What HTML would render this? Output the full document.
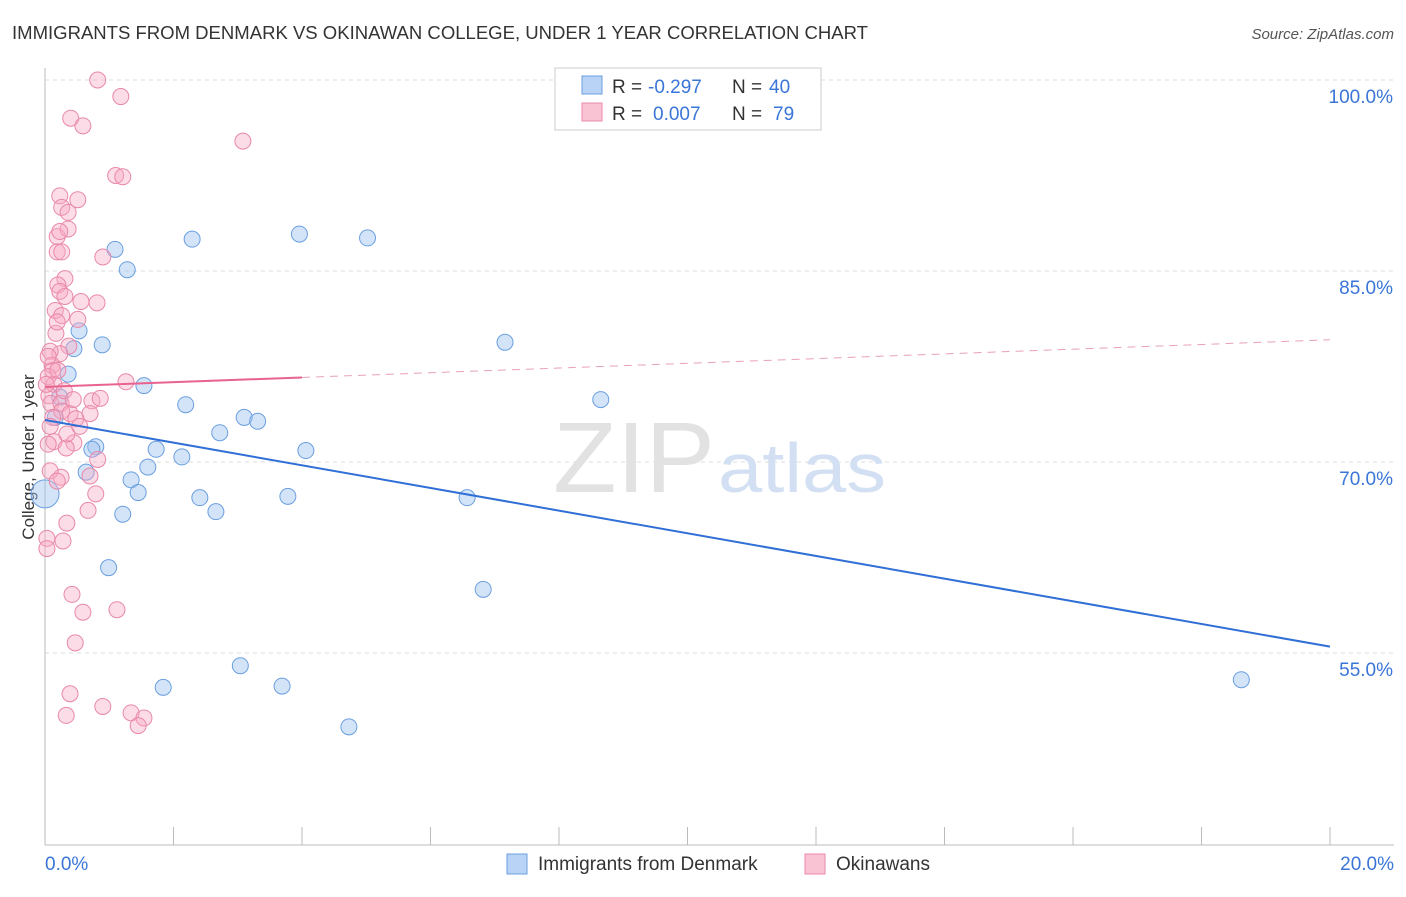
<!DOCTYPE html>
<html><head><meta charset="utf-8">
<style>
body{margin:0;background:#fff;font-family:"Liberation Sans",sans-serif;}
svg text{font-family:"Liberation Sans",sans-serif;}
</style></head>
<body>
<svg id="chart" width="1406" height="892" xmlns="http://www.w3.org/2000/svg">
<text x="12" y="39" font-size="18" fill="#333" textLength="856" lengthAdjust="spacingAndGlyphs">IMMIGRANTS FROM DENMARK VS OKINAWAN COLLEGE, UNDER 1 YEAR CORRELATION CHART</text>
<text x="1394" y="39" font-size="15" fill="#555" text-anchor="end" font-style="italic">Source: ZipAtlas.com</text>
<text transform="translate(34,457) rotate(-90)" font-size="17" fill="#333" text-anchor="middle">College, Under 1 year</text>
<g id="grid"></g>
<text x="553" y="492" font-size="100" fill="#e2e2e2" font-family="Liberation Serif" textLength="162" lengthAdjust="spacingAndGlyphs">ZIP</text>
<text x="718" y="492" font-size="70" fill="#d3e0f3" textLength="168" lengthAdjust="spacingAndGlyphs">atlas</text>
<g id="points"></g>
<g id="lines"></g>
<g>
<rect x="555" y="68" width="266" height="62" fill="#fff" stroke="#ccc"/>
<rect x="582" y="76" width="20" height="18" fill="#b8d3f5" stroke="#6a9fe0"/>
<rect x="582" y="103" width="20" height="18" fill="#f9c3d3" stroke="#e888a8"/>
<text y="93" font-size="19" fill="#333"><tspan x="612">R =</tspan><tspan x="648" fill="#3a75d8">-0.297</tspan><tspan x="732">N =</tspan><tspan x="769" fill="#3a75d8">40</tspan></text>
<text y="120" font-size="19" fill="#333"><tspan x="612">R =</tspan><tspan x="653" fill="#3a75d8">0.007</tspan><tspan x="732">N =</tspan><tspan x="773" fill="#3a75d8">79</tspan></text>
</g>
<g>
<rect x="507" y="854" width="20" height="20" fill="#b8d3f5" stroke="#6a9fe0"/>
<text x="538" y="870" font-size="19" fill="#333">Immigrants from Denmark</text>
<rect x="805" y="854" width="20" height="20" fill="#f9c3d3" stroke="#e888a8"/>
<text x="836" y="870" font-size="19" fill="#333">Okinawans</text>
</g>
<text x="45" y="870" font-size="19" fill="#3a75d8">0.0%</text>
<text x="1394" y="870" font-size="19" fill="#3a75d8" text-anchor="end">20.0%</text>
</svg>
<script>
const yTicks=[100,85,70,55];
const blueX=[1.09,1.28,2.29,3.96,5.02,0.53,0.89,0.45,0.36,1.54,2.19,0.16,3.1,3.31,2.72,0.79,0.73,1.73,2.13,4.06,1.6,0.64,1.34,1.45,2.41,3.78,2.66,1.21,6.57,0.99,6.82,3.04,1.84,3.69,4.73,7.16,8.65,18.62,0.0,0.23];
const blueY=[86.7,85.1,87.5,87.9,87.6,80.3,79.2,78.9,76.9,76.0,74.5,73.5,73.5,73.2,72.3,71.2,71.0,71.0,70.4,70.9,69.6,69.2,68.6,67.6,67.2,67.3,66.1,65.9,67.2,61.7,60.0,54.0,52.3,52.4,49.2,79.4,74.9,52.9,67.5,75.1];
const pinkX=[0.82,1.18,0.4,0.59,3.08,1.1,1.21,0.23,0.51,0.26,0.36,0.19,0.36,0.23,0.19,0.9,0.31,0.2,0.23,0.31,0.56,0.81,0.16,0.51,0.26,0.17,0.37,0.23,0.08,0.11,0.12,0.05,0.14,1.26,0.06,0.09,0.25,0.73,0.26,0.39,0.7,0.48,0.12,0.54,0.14,0.45,0.05,0.33,0.82,0.25,0.08,0.79,0.67,0.34,0.28,0.03,0.03,0.42,0.59,1.12,0.47,0.39,0.9,0.33,1.34,1.54,1.45,0.19,0.08,0.02,0.86,0.3,0.44,0.2,0.34,0.19,0.05,0.26,0.7];
const pinkY=[100,98.7,97.0,96.4,95.2,92.5,92.4,90.9,90.6,90.0,89.6,87.7,88.3,88.1,86.5,86.1,84.4,83.9,83.4,83.0,82.6,82.5,81.9,81.2,81.5,80.1,79.1,78.5,78.7,77.6,77.2,76.7,76.1,76.3,75.2,74.6,74.6,74.8,74.0,73.8,73.8,73.4,73.5,72.8,71.6,71.5,71.4,71.1,70.2,68.8,69.3,67.5,66.2,65.2,63.8,64.0,63.2,59.6,58.2,58.4,55.8,51.8,50.8,50.1,50.3,49.9,49.3,81.0,72.8,76.1,75.0,75.6,74.9,77.2,72.2,68.5,78.3,86.5,68.9];
const blueLine=[73.3,55.5];
const pinkLine=[75.9,79.6];
const X=v=>45+v/20*1285, Y=v=>80+(100-v)/15*191;
const NS="http://www.w3.org/2000/svg";
function mk(t,a,p){const e=document.createElementNS(NS,t);for(const k in a)e.setAttribute(k,a[k]);p.appendChild(e);return e;}
const grid=document.getElementById('grid');
yTicks.forEach(t=>{
  const l=mk('line',{x1:45,x2:1394,y1:Y(t),y2:Y(t),stroke:'#ddd','stroke-dasharray':'4,4'},grid);
  
  
  const tx=mk('text',{x:1393,y:Y(t)+23,'font-size':19,fill:'#3a75d8','text-anchor':'end'},grid);
  tx.textContent=t.toFixed(1)+'%';
  
  
});
mk('line',{x1:45,x2:45,y1:68,y2:845,stroke:'#bbb'},grid);
mk('line',{x1:45,x2:1394,y1:845,y2:845,stroke:'#bbb'},grid);
for(let i=0;i<=10;i++){const x=X(i*2);mk('line',{x1:x,x2:x,y1:827,y2:845,stroke:'#bbb'},grid);}
const pts=document.getElementById('points');
blueX.forEach((v,i)=>{
  const c=mk('circle',{cx:X(v),cy:Y(blueY[i]),r:(i==38?14:8),fill:'rgba(160,195,240,0.45)',stroke:'#6a9fe0','stroke-width':1},pts);
  
  
});
pinkX.forEach((v,i)=>{
  const c=mk('circle',{cx:X(v),cy:Y(pinkY[i]),r:8,fill:'rgba(247,170,195,0.4)',stroke:'#e888a8','stroke-width':1},pts);
  
  
});
const ln=document.getElementById('lines');
const bl=mk('line',{x1:X(0),y1:Y(blueLine[0]),x2:X(20),y2:Y(blueLine[1]),stroke:'#2f6fd6','stroke-width':2},ln);


const pm=pinkLine[0]+(pinkLine[1]-pinkLine[0])*0.2;
const pl=mk('line',{x1:X(0),y1:Y(pinkLine[0]),x2:X(4),y2:Y(pm),stroke:'#e8638e','stroke-width':2},ln);


const pd=mk('line',{x1:X(4),y1:Y(pm),x2:X(20),y2:Y(pinkLine[1]),stroke:'#e8a0b8','stroke-width':1,'stroke-dasharray':'8,6'},ln);


</script>
</body></html>
